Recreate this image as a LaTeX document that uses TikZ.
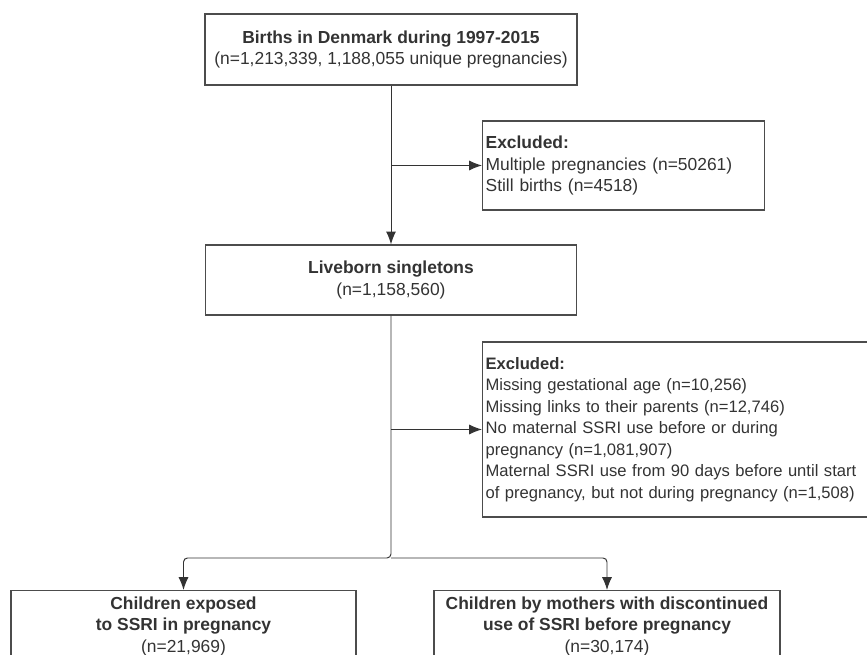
\documentclass[tikz,border=0pt]{standalone}
\usepackage{fontspec}
\setmainfont{Liberation Sans}
\usepackage{xcolor}
\usetikzlibrary{arrows.meta,positioning}
\definecolor{txtgray}{HTML}{333333}

\begin{document}
\begin{tikzpicture}[
		box/.style={rectangle, draw=black!70, line width=0.9pt, align=center, inner sep=0.075cm},
		exbox/.style={box, align=left, anchor=west},
		every node/.style={text=txtgray, font=\fontsize{12.4}{15.3}\selectfont},
		>={Latex[length=0.32cm,width=0.25cm]}, % pointes pleines
		color=txtgray, line width=0.7pt
		]
		\clip (0,0) rectangle (21.675,16.375);
		
		% Les boites
		\node[box, minimum width=9.3cm, minimum height=1.775cm] (births) at (9.775,15.1375) {\textbf{Births in Denmark during 1997-2015}\\(n=1,213,339, 1,188,055 unique pregnancies)};
		\node[exbox, text width=6.9cm, minimum height=2.225cm] (excl1) at (12.05,12.2375) {\textbf{Excluded:}\\Multiple pregnancies (n=50261)\\Still births (n=4518)};
		\node[box, minimum width=9.275cm, minimum height=1.75cm] (live) at (9.775,9.375) {\textbf{Liveborn singletons}\\(n=1,158,560)};
		\node[exbox, text width=10.5cm, minimum height=4.375cm, font=\fontsize{11.8}{15.3}\selectfont] (excl2) at (12.05,5.6375) {\textbf{Excluded:}\\Missing gestational age (n=10,256)\\Missing links to their parents (n=12,746)\\No maternal SSRI use before or during\\pregnancy (n=1,081,907)\\Maternal SSRI use from 90 days before until start\\of pregnancy, but not during pregnancy (n=1,508)};
		\coordinate (split) at (9.775,2.425);
		\node[box, anchor=north, minimum width=8.625cm, inner ysep=0.15cm] (exposed) at (4.5875,1.625) {\textbf{Children exposed}\\\textbf{to SSRI in pregnancy}\\(n=21,969)};
		\node[box, anchor=north, minimum width=8.65cm, inner ysep=0.15cm] (discont) at (15.175,1.625) {\textbf{Children by mothers with discontinued}\\\textbf{use of SSRI before pregnancy}\\(n=30,174)};
		
		% Les fleches
		\draw[->] (births) -- (live);
		\draw[->] (births.south |- excl1.west) -- (excl1.west);
		\draw[->] (live.south |- excl2.west) -- (excl2.west);
		\draw[->, rounded corners=0.1cm] (live.south) -- (split) -| (exposed.north);
		\draw[->, rounded corners=0.1cm] (split) -| (discont.north);
	\end{tikzpicture}
\end{document}
